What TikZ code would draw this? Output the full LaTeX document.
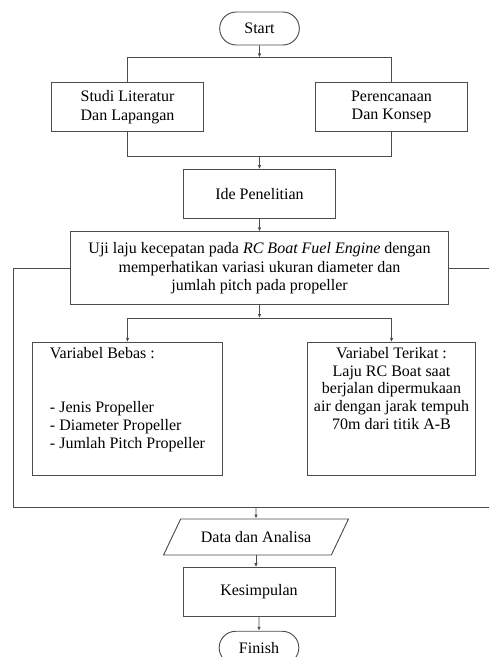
\documentclass[tikz,border=0pt]{standalone}
\usepackage{fontspec}
\setmainfont{Liberation Serif}
\usepackage{tikz}
\usetikzlibrary{arrows.meta,positioning,shapes.misc,shapes.geometric}
\newcommand{\toplines}[2]{\vbox to 94.35pt{\hbox{\begin{tabular}{@{}#1@{}}#2\end{tabular}}\vfil}}
\tikzset{
  >={Latex[length=3pt, width=2.6pt]},
  block/.style={draw=black!70, line width=0.7pt, rectangle, minimum width=114pt, minimum height=36.5pt, align=center, inner sep=2pt, font=\fontsize{12}{13.75}\selectfont},
  terminal/.style={block, rounded rectangle, minimum width=63.75pt, minimum height=24.75pt},
  wide/.style={block, minimum width=283.5pt, minimum height=54.75pt},
  varbox/.style={block, minimum height=99.75pt, inner ysep=2.7pt, font=\fontsize{12}{13.25}\selectfont},
  io/.style={block, trapezium, trapezium left angle=51.6, trapezium right angle=128.4, trapezium stretches=true, minimum width=138.75pt, minimum height=27pt},
  wire/.style={draw=black!70, line width=0.7pt},
  conn/.style={wire, ->},
}
\begin{document}
\begin{tikzpicture}[x=0.75pt, y=-0.75pt]
    \useasboundingbox (0,0) rectangle (489,657);

    % nodes
    \node[terminal] (start) at (259.5,28.5) {Start};
    \coordinate[below=9pt of start] (splitA);
    \node[block, below=18.75pt of splitA, xshift=-99pt] (studi) {Studi Literatur\\Dan Lapangan};
    \node[block, below=18.75pt of splitA, xshift=99pt] (konsep) {Perencanaan\\Dan Konsep};
    \coordinate[below=74.25pt of splitA] (joinA);
    \node[block, below=9.5pt of joinA] (ide) {Ide Penelitian};
    \node[wide, below=9.5pt of ide] (uji) {Uji laju kecepatan pada \textit{RC Boat Fuel Engine} dengan\\memperhatikan variasi ukuran diameter dan\\jumlah pitch pada propeller};
    \coordinate[below=9.5pt of uji] (splitB);
    \node[varbox, minimum width=142.5pt, below=18pt of splitB, xshift=-99pt] (bebas)
        {\toplines{l}{Variabel Bebas :\\[27.5pt]- Jenis Propeller\\- Diameter Propeller\\- Jumlah Pitch Propeller}};
    \node[varbox, minimum width=126pt, inner xsep=1pt, below=18pt of splitB, xshift=99pt] (terikat)
        {\toplines{c}{Variabel Terikat :\\Laju RC Boat saat\\berjalan dipermukaan\\air dengan jarak tempuh\\70m dari titik A-B}};
    \coordinate (cornerL) at (13,507);
    \coordinate (edgeB) at (489,507);
    \node[io] (data) at (256,537) {Data dan Analisa};
    \node[block] (kesimpulan) at (259,592) {Kesimpulan};
    \node[terminal, below=10.5pt of kesimpulan] (finish) {Finish};

    % connectors
    \draw[conn] (start) -- (splitA);
    \draw[wire] (studi.north) |- (splitA) -| (konsep.north);
    \draw[wire] (studi.south) |- (joinA) -| (konsep.south);
    \draw[conn] (joinA) -- (ide);
    \draw[conn] (ide) -- (uji);
    \draw[conn] (uji) -- (splitB);
    \draw[conn] (splitB) -| (bebas);
    \draw[conn] (splitB) -| (terikat);

    % loop round the variables
    \draw[wire] (uji.west) -| (cornerL) -- (edgeB);
    \draw[wire] (uji.east) -- (uji.east -| edgeB);
    \draw[conn] (data.north |- edgeB) -- (data);
    \draw[conn] (data.south) -- (data.south |- kesimpulan.north);
    \draw[conn] (kesimpulan) -- (finish);
\end{tikzpicture}
\end{document}
